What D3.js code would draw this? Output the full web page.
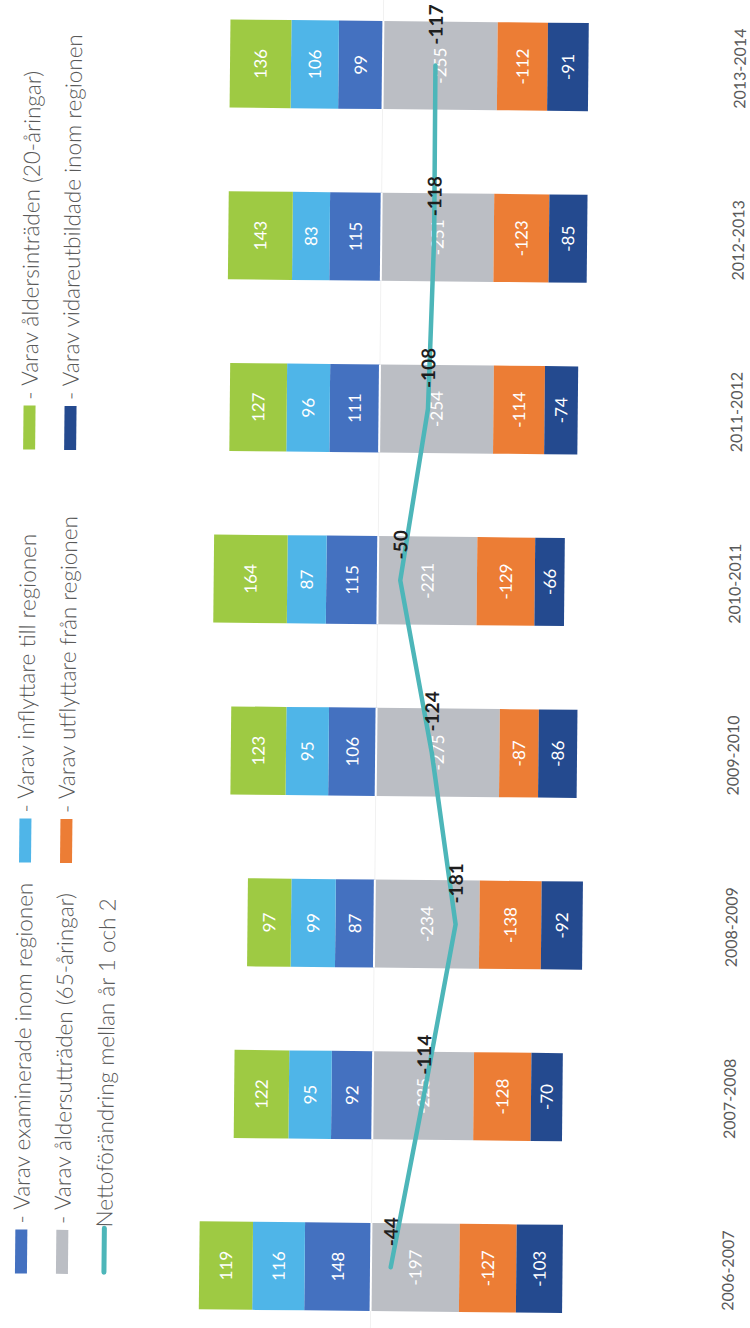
<!DOCTYPE html>
<html>
<head>
<meta charset="utf-8">
<script src="https://cdn.jsdelivr.net/npm/d3@7"></script>
<style>
  html, body { margin: 0; padding: 0; background: #fff; }
  svg { display: block; }
</style>
</head>
<body>
<svg id="chart" width="750" height="1328"></svg>
<script>
// Läsår / period per stapel
const categories = ["2006-2007", "2007-2008", "2008-2009", "2009-2010",
                    "2010-2011", "2011-2012", "2012-2013", "2013-2014"];

// Tillskott (positiva)
const examinerade     = [148,  92,  87, 106, 115, 111, 115,  99];
const inflyttare      = [116,  95,  99,  95,  87,  96,  83, 106];
const aldersintraden  = [119, 122,  97, 123, 164, 127, 143, 136];
// Avgångar (negativa)
const aldersuttraden  = [-197, -225, -234, -275, -221, -254, -251, -255];
const utflyttare      = [-127, -128, -138,  -87, -129, -114, -123, -112];
const vidareutbildade = [-103,  -70,  -92,  -86,  -66,  -74,  -85,  -91];
// Nettoförändring
const netto           = [-44, -114, -181, -124, -50, -108, -118, -117];

const seriesKeys = ["examinerade", "inflyttare", "aldersintraden",
                    "aldersuttraden", "utflyttare", "vidareutbildade"];
const seriesLabels = {
  examinerade:     "- Varav examinerade inom regionen",
  inflyttare:      "- Varav inflyttare till regionen",
  aldersintraden:  "- Varav åldersinträden (20-åringar)",
  aldersuttraden:  "- Varav åldersutträden (65-åringar)",
  utflyttare:      "- Varav utflyttare från regionen",
  vidareutbildade: "- Varav vidareutbildade inom regionen"
};
const nettoLabel = "Nettoförändring mellan år 1 och 2";

const colors = {
  examinerade:     "#4471c0",
  inflyttare:      "#4fb5e8",
  aldersintraden:  "#9eca43",
  aldersuttraden:  "#bbbec4",
  utflyttare:      "#ec7d35",
  vidareutbildade: "#244a8f",
  netto:           "#4db6b9"
};

const table = categories.map((c, i) => ({
  category: c,
  examinerade: examinerade[i],
  inflyttare: inflyttare[i],
  aldersintraden: aldersintraden[i],
  aldersuttraden: aldersuttraden[i],
  utflyttare: utflyttare[i],
  vidareutbildade: vidareutbildade[i],
  netto: netto[i]
}));

const svg = d3.select("#chart");
// the page is laid out sideways: the category axis runs bottom-to-top
const root = svg.append("g").attr("transform", "rotate(0.57 375 664)");
const g = root.append("g").attr("transform", "translate(0,1328) rotate(-90)");

const x = d3.scaleBand()
  .domain(categories)
  .range([-24.86, 1348.86])
  .paddingInner(0.487)
  .paddingOuter(0.2435);

const y = d3.scaleLinear()
  .domain([400, -500])
  .range([197.6, 601.25]);

const bw = x.bandwidth();
const cx = c => x(c) + bw / 2;

// faint zero line
g.append("line")
  .attr("x1", x(categories[0]) - 30)
  .attr("x2", x(categories[categories.length - 1]) + bw + 30)
  .attr("y1", y(0)).attr("y2", y(0))
  .attr("stroke", "#f1f1f1").attr("stroke-width", 1);

const layers = d3.stack().keys(seriesKeys).offset(d3.stackOffsetDiverging)(table);

g.selectAll("g.layer")
  .data(layers)
  .join("g")
  .attr("class", "layer")
  .attr("fill", d => colors[d.key])
  .selectAll("rect")
  .data(d => d)
  .join("rect")
  .attr("x", d => x(d.data.category))
  .attr("width", bw)
  .attr("y", d => y(d[1]))
  .attr("height", d => y(d[0]) - y(d[1]));

// white gap between gains and losses
g.selectAll("line.sep")
  .data(categories)
  .join("line")
  .attr("class", "sep")
  .attr("x1", d => x(d)).attr("x2", d => x(d) + bw)
  .attr("y1", y(0)).attr("y2", y(0))
  .attr("stroke", "#fff").attr("stroke-width", 2);

// segment values
layers.forEach(layer => {
  g.append("g")
    .selectAll("text")
    .data(layer)
    .join("text")
    .attr("x", d => cx(d.data.category))
    .attr("y", d => y((d[0] + d[1]) / 2))
    .attr("dy", "0.36em")
    .attr("text-anchor", "middle")
    .attr("fill", "#fff")
    .attr("font-family", "Lato, 'Open Sans', sans-serif")
    .attr("font-size", 17)
    .text(d => d.data[layer.key]);
});

// net change line
const line = d3.line()
  .x(d => cx(d.category))
  .y(d => y(d.netto));

g.append("path")
  .datum(table)
  .attr("d", line)
  .attr("fill", "none")
  .attr("stroke", colors.netto)
  .attr("stroke-width", 4.5)
  .attr("stroke-linejoin", "round")
  .attr("stroke-linecap", "round");

g.append("g")
  .selectAll("text")
  .data(table)
  .join("text")
  .attr("x", d => cx(d.category) + 21)
  .attr("y", d => y(d.netto))
  .attr("dy", "0.36em")
  .attr("fill", "#1e1e1e")
  .attr("font-family", "Lato, 'Open Sans', sans-serif")
  .attr("font-weight", 700)
  .attr("font-size", 19)
  .text(d => d.netto);

// category axis
const axis = d3.axisBottom(x).tickSize(0).tickPadding(0);
const ax = g.append("g")
  .attr("transform", "translate(0,734)")
  .call(axis);
ax.select(".domain").remove();
ax.selectAll("text")
  .attr("dy", "0.36em")
  .attr("fill", "#595959")
  .attr("font-family", "Lato, 'Open Sans', sans-serif")
  .attr("font-size", 16);

// legend
const legendRows = [
  ["examinerade", "inflyttare", "aldersintraden"],
  ["aldersuttraden", "utflyttare", "vidareutbildade"]
];
const legendCols = [51, 462, 875];
const legendRowY = [27, 68, 110];

const legend = g.append("g")
  .attr("font-family", "Lato, 'Open Sans', sans-serif")
  .attr("font-weight", 300)
  .attr("font-size", 22.5)
  .attr("fill", "#595959");

legendRows.forEach((row, ri) => {
  row.forEach((key, ci) => {
    const item = legend.append("g")
      .attr("transform", `translate(${legendCols[ci]},${legendRowY[ri]})`);
    item.append("rect")
      .attr("x", 0).attr("y", -6)
      .attr("width", 44).attr("height", 12)
      .attr("fill", colors[key]);
    item.append("text")
      .attr("x", 50).attr("dy", "0.35em")
      .text(seriesLabels[key]);
  });
});

const nettoItem = legend.append("g")
  .attr("transform", `translate(${legendCols[0]},${legendRowY[2]})`);
nettoItem.append("line")
  .attr("x1", 2).attr("x2", 46)
  .attr("stroke", colors.netto)
  .attr("stroke-width", 5)
  .attr("stroke-linecap", "round");
nettoItem.append("text")
  .attr("x", 47).attr("dy", "0.35em")
  .text(nettoLabel);
</script>
</body>
</html>
